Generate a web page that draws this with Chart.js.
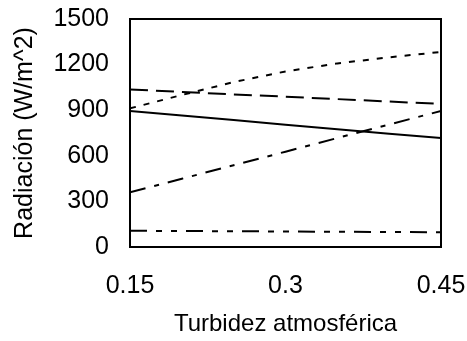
<!DOCTYPE html>
<html>
<head>
<meta charset="utf-8">
<script src="https://cdn.jsdelivr.net/npm/chart.js@4/dist/chart.umd.min.js"></script>
<style>
  html, body { margin: 0; padding: 0; background: #fff; }
  #wrap { width: 467px; height: 341px; }
</style>
</head>
<body>
<div id="wrap"><canvas id="c" width="467" height="341"></canvas></div>
<script>
const turbidity = [0.15, 0.2, 0.25, 0.3, 0.35, 0.4, 0.45];
const solidSeries = [895, 865, 835, 805, 775, 745, 717];
const dashedSeries = [1037, 1020, 1004, 989, 973, 957, 941];
const dottedSeries = [912, 1000, 1085, 1155, 1208, 1248, 1283];
const dashDotSeries = [360, 449, 538, 627, 717, 806, 895];
const dashDotDotSeries = [107, 105, 104, 102, 100, 99, 97];
const xTickValues = [0.15, 0.3, 0.45];
const xTickLabels = ['0.15', '0.3', '0.45'];
const yTickValues = [0, 300, 600, 900, 1200, 1500];
const yTickLabels = ['0', '300', '600', '900', '1200', '1500'];

function pts(vals) { return turbidity.map((x, i) => ({ x: x, y: vals[i] })); }
function ds(vals, dash) {
  return { data: pts(vals), borderColor: '#000', borderWidth: 2, borderDash: dash,
           pointRadius: 0, tension: 0, fill: false };
}

const frame = {
  id: 'frame',
  afterDatasetsDraw(chart) {
    const a = chart.chartArea, c = chart.ctx;
    c.save();
    c.strokeStyle = '#000';
    c.lineWidth = 2;
    c.beginPath();
    c.moveTo(a.left, a.top); c.lineTo(a.right, a.top); c.lineTo(a.right, a.bottom);
    c.stroke();
    c.restore();
  }
};

const font = 'Liberation Sans, Arial, sans-serif';
new Chart(document.getElementById('c'), {
  type: 'line',
  data: { datasets: [
    ds(solidSeries, []),
    ds(dashedSeries, [18, 8]),
    ds(dottedSeries, [6, 8]),
    ds(dashDotSeries, [16, 9, 5, 9]),
    ds(dashDotDotSeries, [17, 9, 6, 9, 6, 9])
  ]},
  options: {
    responsive: false, animation: false,
    layout: { padding: { top: 19, right: 26, left: 0, bottom: 0 } },
    plugins: { legend: { display: false }, tooltip: { enabled: false } },
    scales: {
      x: {
        type: 'linear', min: 0.15, max: 0.45,
        afterBuildTicks: s => { s.ticks = xTickValues.map(v => ({ value: v })); },
        afterFit: s => { s.height = 94; s.paddingLeft = 0; s.paddingRight = 0; },
        ticks: { color: '#000', font: { family: font, size: 25 }, padding: 16, maxRotation: 0,
                 callback: (v, i) => xTickLabels[i] },
        grid: { display: false, drawOnChartArea: false, drawTicks: true, tickLength: 8, tickWidth: 2, tickColor: '#000' },
        border: { display: true, color: '#000', width: 2 },
        title: { display: true, text: 'Turbidez atmosférica', color: '#000',
                 font: { family: font, size: 24 }, padding: { top: 0, bottom: 2 } }
      },
      y: {
        min: 0, max: 1500,
        afterBuildTicks: s => { s.ticks = yTickValues.map(v => ({ value: v })); },
        afterFit: s => { s.width = 130; s.paddingTop = 0; s.paddingBottom = 0; },
        ticks: { color: '#000', font: { family: font, size: 25 }, padding: 13,
                 callback: (v, i) => yTickLabels[i] },
        grid: { display: false, drawOnChartArea: false, drawTicks: true, tickLength: 8, tickWidth: 2, tickColor: '#000' },
        border: { display: true, color: '#000', width: 2 },
        title: { display: true, text: 'Radiación (W/m^2)', color: '#000',
                 font: { family: font, size: 25 }, padding: { top: 10, bottom: 0 } }
      }
    }
  },
  plugins: [frame]
});
</script>
</body>
</html>
